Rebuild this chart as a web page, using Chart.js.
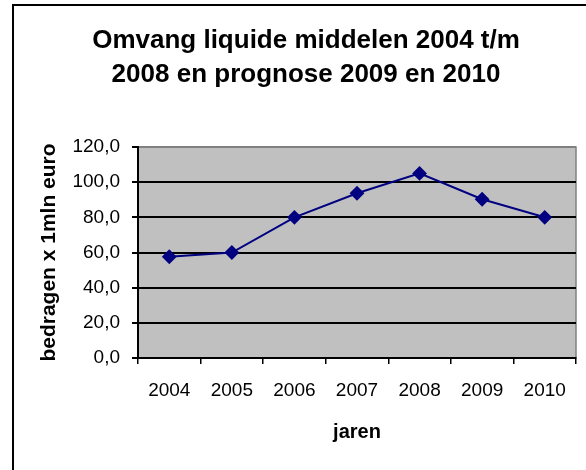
<!DOCTYPE html>
<html>
<head>
<meta charset="utf-8">
<script src="https://cdn.jsdelivr.net/npm/chart.js@4/dist/chart.umd.min.js"></script>
<style>
  html, body { margin: 0; padding: 0; background: #ffffff; }
  canvas { display: block; }
</style>
</head>
<body>
<canvas id="c" width="586" height="470"></canvas>
<script>
const titleLines = ['Omvang liquide middelen 2004 t/m', '2008 en prognose 2009 en 2010'];
const years = ['2004', '2005', '2006', '2007', '2008', '2009', '2010'];
const amounts = [57.6, 60.0, 80.0, 93.7, 105.0, 90.3, 80.0];
const yTitle = 'bedragen x 1mln euro';
const xTitle = 'jaren';
const yMin = 0, yMax = 120, yStep = 20;

const FONT = "'Liberation Sans', Arial, sans-serif";

const framePlugin = {
  id: 'frame',
  beforeDraw(chart) {
    const ctx = chart.ctx;
    const a = chart.chartArea;
    ctx.save();
    ctx.fillStyle = '#ffffff';
    ctx.fillRect(0, 0, chart.width, chart.height);
    // outer chart border (extends past the right/bottom edge)
    ctx.strokeStyle = '#000000';
    ctx.lineWidth = 2;
    ctx.strokeRect(13, 5, chart.width + 20, chart.height + 20);
    // plot area
    ctx.fillStyle = '#c0c0c0';
    ctx.fillRect(a.left, a.top, a.right - a.left, a.bottom - a.top);
    ctx.strokeStyle = '#808080';
    ctx.lineWidth = 1.5;
    ctx.strokeRect(a.left, a.top, a.right - a.left, a.bottom - a.top);
    ctx.restore();
  }
};

new Chart(document.getElementById('c'), {
  type: 'line',
  data: {
    labels: years,
    datasets: [{
      data: amounts,
      borderColor: '#000080',
      backgroundColor: '#000080',
      borderWidth: 2,
      pointStyle: 'rectRot',
      pointRadius: 6,
      pointBackgroundColor: '#000080',
      pointBorderColor: '#000080',
      fill: false,
      tension: 0
    }]
  },
  options: {
    responsive: false,
    animation: false,
    layout: { padding: { left: 36, right: 10, top: 0, bottom: 0 } },
    plugins: {
      legend: { display: false },
      tooltip: { enabled: false },
      title: {
        display: true,
        text: titleLines,
        color: '#000000',
        font: { family: FONT, size: 26, weight: 'bold', lineHeight: '34px' },
        padding: { top: 24, bottom: 55 }
      }
    },
    scales: {
      x: {
        offset: true,
        grid: {
          offset: true,
          drawOnChartArea: false,
          drawTicks: true,
          tickLength: 6,
          color: '#000000',
          lineWidth: 1.5
        },
        border: { display: true, color: '#000000', width: 2 },
        ticks: {
          color: '#000000',
          font: { family: FONT, size: 19 },
          padding: 15,
          maxRotation: 0
        },
        title: {
          display: true,
          text: xTitle,
          color: '#000000',
          font: { family: FONT, size: 20, weight: 'bold' },
          padding: { top: 0, bottom: 26 }
        },
        afterFit(scale) { scale.height = 112; }
      },
      y: {
        min: yMin,
        max: yMax,
        ticks: {
          stepSize: yStep,
          color: '#000000',
          font: { family: FONT, size: 19 },
          padding: 12,
          callback: (v) => Number(v).toFixed(1).replace('.', ',')
        },
        grid: {
          drawTicks: true,
          tickLength: 6,
          color: (c) => (c.tick && c.tick.value === yMax) ? '#808080' : '#000000',
          tickColor: '#000000',
          lineWidth: 2
        },
        border: { display: true, color: '#000000', width: 2 },
        title: {
          display: true,
          text: yTitle,
          color: '#000000',
          font: { family: FONT, size: 21, weight: 'bold' },
          padding: { top: 1, bottom: 0 }
        },
        afterFit(scale) { scale.width = 102; }
      }
    }
  },
  plugins: [framePlugin]
});
</script>
</body>
</html>
